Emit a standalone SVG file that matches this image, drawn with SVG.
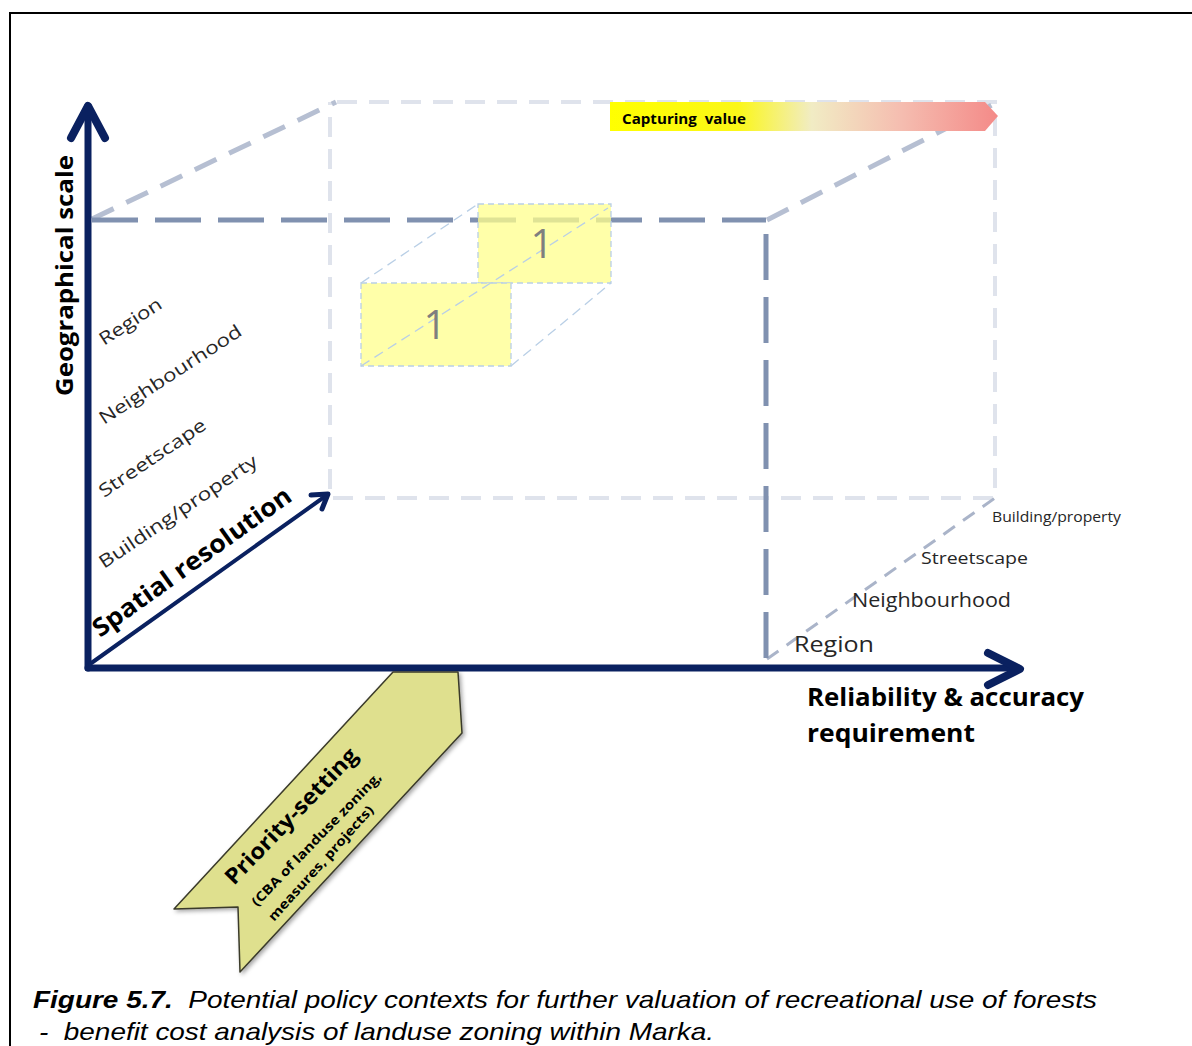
<svg xmlns="http://www.w3.org/2000/svg" width="1192" height="1046" viewBox="0 0 1192 1046">
  <defs>
    <linearGradient id="captureGrad" x1="0" y1="0" x2="1" y2="0">
      <stop offset="0" stop-color="#ffff00"/>
      <stop offset="0.33" stop-color="#fbf718"/>
      <stop offset="0.52" stop-color="#f1ecc4"/>
      <stop offset="0.75" stop-color="#f5bdb0"/>
      <stop offset="1" stop-color="#f48a88"/>
    </linearGradient>
    <filter id="shadow" x="-20%" y="-20%" width="140%" height="140%">
      <feDropShadow dx="2" dy="2" stdDeviation="2" flood-color="#000" flood-opacity="0.35"/>
    </filter>
  </defs>
  <style>
    text { white-space: pre; }
    .axis { stroke: #0a2160; fill: none; stroke-linecap: round; stroke-linejoin: round; }
    .front { stroke: #8091b0; stroke-width: 5; fill: none; stroke-dasharray: 46 17; }
    .back { stroke: #dfe3ec; stroke-width: 4; fill: none; stroke-dasharray: 20 12; }
    .depth { stroke: #b6bfd2; stroke-width: 5; fill: none; stroke-dasharray: 24 14; }
    .depth-thin { stroke: #aab4c9; stroke-width: 3; fill: none; stroke-dasharray: 14 10; }
    .cell { fill: #ffff8c; fill-opacity: 0.75; stroke: #b9cfe6; stroke-width: 1.3; stroke-dasharray: 6 4; }
    .cell-edge { stroke: #b9cfe6; stroke-width: 1.3; fill: none; stroke-dasharray: 10 6; }
    .lbl { font-family: "Open Sans", "Noto Sans", sans-serif; fill: #262626; }
    .bold { font-family: "Open Sans", "Noto Sans", sans-serif; font-weight: bold; fill: #000; }
    .cap { font-family: "Liberation Sans", Arial, sans-serif; font-style: italic; font-size: 24px; fill: #000; }
  </style>

  <rect width="1192" height="1046" fill="#fff"/>
  <!-- figure frame -->
  <path d="M10 1046 V13 H1192" fill="none" stroke="#000" stroke-width="2"/>

  <!-- cube edges -->
  <g id="connectors">
    <path class="back" d="M337 102 H995 V498 H330 V102"/>
    <path class="depth" d="M92 219 L336 102"/>
    <path class="depth" d="M767 220 L996 103"/>
    <path class="depth-thin" d="M767 659 L995 498"/>
    <path class="front" d="M92 220 H766"/>
    <path class="front" d="M766 234 V660"/>
  </g>

  <!-- highlighted cells -->
  <g id="cells">
    <rect class="cell" x="478" y="204" width="133" height="79"/>
    <rect class="cell" x="361" y="283" width="150" height="83"/>
    <path class="cell-edge" d="M361 283 L478 204 M361 366 L608 208 M511 366 L611 283"/>
    <text x="542" y="258" font-family="Open Sans, Noto Sans, sans-serif" font-size="40" fill="#7f7f7f" text-anchor="middle">1</text>
    <text x="435" y="339" font-family="Open Sans, Noto Sans, sans-serif" font-size="40" fill="#7f7f7f" text-anchor="middle">1</text>
  </g>

  <!-- capturing value arrow -->
  <g id="capturing-value">
    <path d="M610 102 H985 L998 116 L985 131 H610 Z" fill="url(#captureGrad)"/>
    <text x="622" y="124" class="bold" font-size="15" textLength="124" lengthAdjust="spacingAndGlyphs">Capturing  value</text>
  </g>

  <!-- axes -->
  <g id="axes">
    <path class="axis" stroke-width="7" d="M88 668 V106"/>
    <path class="axis" stroke-width="8" d="M71 138 L88 106 L105 138"/>
    <path class="axis" stroke-width="7" d="M88 668 H1018"/>
    <path class="axis" stroke-width="8" d="M988 653 L1020 669 L988 685"/>
    <path class="axis" stroke-width="4" d="M90 664 L327 495"/>
    <path class="axis" stroke-width="5" d="M311 495 L328 494 L322 509"/>
  </g>

  <!-- axis titles -->
  <g id="axis-titles">
    <text class="bold" font-size="24" transform="translate(73 396) rotate(-90)" textLength="241" lengthAdjust="spacingAndGlyphs">Geographical scale</text>
    <text class="bold" font-size="25" transform="translate(100 638) rotate(-35.5)" textLength="238" lengthAdjust="spacingAndGlyphs">Spatial resolution</text>
    <text class="bold" font-size="25" x="807" y="706" textLength="277" lengthAdjust="spacingAndGlyphs">Reliability &amp; accuracy</text>
    <text class="bold" font-size="25" x="807" y="742" textLength="168" lengthAdjust="spacingAndGlyphs">requirement</text>
  </g>

  <!-- spatial resolution levels -->
  <g id="resolution-levels">
    <text class="lbl" font-size="18" transform="translate(104 346) rotate(-33)" textLength="71" lengthAdjust="spacingAndGlyphs">Region</text>
    <text class="lbl" font-size="18" transform="translate(104 425) rotate(-33)" textLength="166" lengthAdjust="spacingAndGlyphs">Neighbourhood</text>
    <text class="lbl" font-size="18" transform="translate(104 498) rotate(-34)" textLength="125" lengthAdjust="spacingAndGlyphs">Streetscape</text>
    <text class="lbl" font-size="18" transform="translate(104 569) rotate(-34)" textLength="187" lengthAdjust="spacingAndGlyphs">Building/property</text>
  </g>

  <!-- reliability levels -->
  <g id="reliability-levels">
    <text class="lbl" font-size="15" x="992" y="522" textLength="129" lengthAdjust="spacingAndGlyphs">Building/property</text>
    <text class="lbl" font-size="17" x="921" y="564" textLength="107" lengthAdjust="spacingAndGlyphs">Streetscape</text>
    <text class="lbl" font-size="20" x="852" y="607" textLength="159" lengthAdjust="spacingAndGlyphs">Neighbourhood</text>
    <text class="lbl" font-size="22" x="794" y="652" textLength="80" lengthAdjust="spacingAndGlyphs">Region</text>
  </g>

  <!-- priority-setting banner -->
  <g id="priority-setting">
    <path d="M393 672 H458 L462 733 L240 972 L238 907 L174 909 Z" fill="#dfe08e" stroke="#3a3a2a" stroke-width="1.5" stroke-linejoin="round" filter="url(#shadow)"/>
    <text class="bold" font-size="22" transform="translate(234 886) rotate(-46)" textLength="180" lengthAdjust="spacingAndGlyphs">Priority-setting</text>
    <text class="bold" font-size="13" transform="translate(257 907) rotate(-46)" textLength="180" lengthAdjust="spacingAndGlyphs">(CBA of landuse zoning,</text>
    <text class="bold" font-size="13" transform="translate(274 922) rotate(-48)" textLength="150" lengthAdjust="spacingAndGlyphs">measures, projects)</text>
  </g>

  <!-- caption -->
  <g id="caption">
    <text class="cap" x="33" y="1008" textLength="1064" lengthAdjust="spacingAndGlyphs"><tspan font-weight="bold">Figure 5.7.</tspan>  Potential policy contexts for further valuation of recreational use of forests</text>
    <text class="cap" x="39" y="1040" textLength="675" lengthAdjust="spacingAndGlyphs">-  benefit cost analysis of landuse zoning within Marka.</text>
  </g>
</svg>
